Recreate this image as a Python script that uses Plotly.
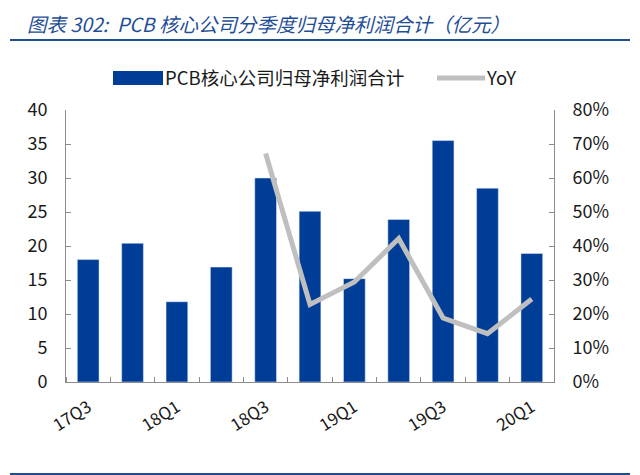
import plotly.graph_objects as go

# data
quarters = ['17Q3', '17Q4', '18Q1', '18Q2', '18Q3', '18Q4',
            '19Q1', '19Q2', '19Q3', '19Q4', '20Q1']
profit = [18.0, 20.4, 11.8, 16.9, 30.0, 25.1, 15.2, 23.9, 35.5, 28.5, 18.9]
yoy = [None, None, None, None, 0.672, 0.228, 0.294, 0.422, 0.188, 0.142, 0.244]

bar_name = 'PCB核心公司归母净利润合计'
line_name = 'YoY'
title_text = '图表 302:  PCB 核心公司分季度归母净利润合计（亿元）'

BLUE = '#003D97'
GREY = '#BFBFBF'
AXIS = '#8C8C8C'
FONT = 'Noto Sans CJK SC'

W, H = 640, 475
OFF = 8  # the page body margin moves the figure by this much
L, R, T, B = 66 - OFF, W - 554 + OFF, 110 - OFF, H - 382 + OFF

pos = list(range(len(quarters)))

fig = go.Figure()
fig.add_trace(go.Bar(x=pos, y=profit, name=bar_name, marker_color=BLUE,
                     width=0.49, showlegend=False))
fig.add_trace(go.Scatter(x=pos, y=yoy, name=line_name, yaxis='y2', mode='lines',
                         line=dict(color=GREY, width=5), showlegend=False))

fig.update_layout(
    width=W, height=H,
    margin=dict(l=L, r=R, t=T, b=B),
    paper_bgcolor='white', plot_bgcolor='white',
    font=dict(family=FONT, size=17, color='#1a1a1a'),
    xaxis=dict(range=[-0.5, len(quarters) - 0.5],
               tickmode='array', tickvals=pos[::2], ticktext=quarters[::2],
               tickangle=-32, ticks='', showgrid=False, zeroline=False,
               showline=True, linecolor=AXIS, linewidth=1, ticklabelstandoff=8,
               minor=dict(tickmode='linear', tick0=-0.5, dtick=1, ticks='inside',
                          ticklen=5, tickcolor=AXIS, showgrid=False),
               tickfont=dict(size=17)),
    yaxis=dict(range=[0, 40], dtick=5, ticks='inside', ticklen=5, tickcolor=AXIS,
               showline=True, linecolor=AXIS, linewidth=1, showgrid=False,
               zeroline=False, ticklabelstandoff=14, tickfont=dict(size=18)),
    yaxis2=dict(range=[0, 0.8], dtick=0.1, tickformat='.0%', overlaying='y',
                side='right', ticks='inside', ticklen=5, tickcolor=AXIS,
                showline=True, linecolor=AXIS, linewidth=1, showgrid=False,
                zeroline=False, ticklabelstandoff=14, tickfont=dict(size=18)),
)


# helpers: screen pixel -> paper coordinate
def px_x(v):
    return (v - OFF - L) / (W - L - R)


def px_y(v):
    return (H - B - (v - OFF)) / (H - T - B)


# title and rules
fig.add_annotation(x=px_x(26), y=px_y(OFF), xref='paper', yref='paper',
                   text='<i>' + title_text + '</i>', showarrow=False,
                   xanchor='left', yanchor='top', borderpad=0,
                   font=dict(size=19.5, color='#1F4E96'))
for yy in (40, 474):
    fig.add_shape(type='line', xref='paper', yref='paper',
                  x0=px_x(10), x1=px_x(630), y0=px_y(yy), y1=px_y(yy),
                  line=dict(color='#1F4E8C', width=2))

# legend drawn by hand to get the wide swatches
fig.add_shape(type='rect', xref='paper', yref='paper',
              x0=px_x(113), x1=px_x(163), y0=px_y(85), y1=px_y(71),
              fillcolor=BLUE, line=dict(width=0))
fig.add_annotation(x=px_x(163), y=px_y(77), xref='paper', yref='paper',
                   text=bar_name, showarrow=False, xanchor='left',
                   yanchor='middle', font=dict(size=18.5))
fig.add_shape(type='line', xref='paper', yref='paper',
              x0=px_x(437), x1=px_x(485), y0=px_y(78), y1=px_y(78),
              line=dict(color=GREY, width=5))
fig.add_annotation(x=px_x(484), y=px_y(77), xref='paper', yref='paper',
                   text=line_name, showarrow=False, xanchor='left',
                   yanchor='middle', font=dict(size=18.5))

fig.write_html("out.html")
